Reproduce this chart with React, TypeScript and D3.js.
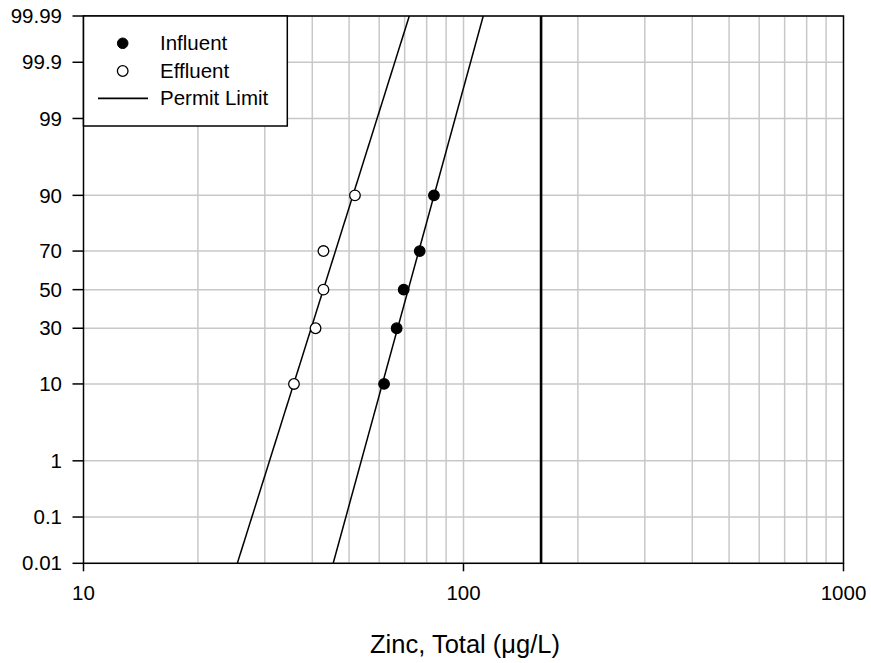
import React from "react";
import * as d3 from "d3";

const probTicks = [0.01, 0.1, 1, 10, 30, 50, 70, 90, 99, 99.9, 99.99];
const probTickLabels = ["0.01", "0.1", "1", "10", "30", "50", "70", "90", "99", "99.9", "99.99"];
const xTicks = [10, 100, 1000];
const xTickLabels = ["10", "100", "1000"];

const influentValues = [61.8, 66.7, 69.6, 76.7, 83.6];
const influentProbs = [10, 30, 50, 70, 90];
const effluentValues = [35.8, 40.8, 42.8, 42.8, 51.8];
const effluentProbs = [10, 30, 50, 70, 90];

// fitted lognormal lines: value at 0.01% and at 99.99%
const influentFit = [45.4, 112.7];
const effluentFit = [25.4, 72.0];
const fitProbs = [0.01, 99.99];

const permitLimit = 160;

function normInv(p: number): number {
  const a = [-3.969683028665376e1, 2.209460984245205e2, -2.759285104469687e2, 1.38357751867269e2, -3.066479806614716e1, 2.506628277459239];
  const b = [-5.447609879822406e1, 1.615858368580409e2, -1.556989798598866e2, 6.680131188771972e1, -1.328068155288572e1];
  const c = [-7.784894002430293e-3, -3.223964580411365e-1, -2.400758277161838, -2.549732539343734, 4.374664141464968, 2.938163982698783];
  const d = [7.784695709041462e-3, 3.224671290700398e-1, 2.445134137142996, 3.754408661907416];
  const pl = 0.02425;
  let q, r;
  if (p < pl) {
    q = Math.sqrt(-2 * Math.log(p));
    return (((((c[0] * q + c[1]) * q + c[2]) * q + c[3]) * q + c[4]) * q + c[5]) / ((((d[0] * q + d[1]) * q + d[2]) * q + d[3]) * q + 1);
  } else if (p <= 1 - pl) {
    q = p - 0.5;
    r = q * q;
    return ((((((a[0] * r + a[1]) * r + a[2]) * r + a[3]) * r + a[4]) * r + a[5]) * q) / (((((b[0] * r + b[1]) * r + b[2]) * r + b[3]) * r + b[4]) * r + 1);
  } else {
    q = Math.sqrt(-2 * Math.log(1 - p));
    return -(((((c[0] * q + c[1]) * q + c[2]) * q + c[3]) * q + c[4]) * q + c[5]) / ((((d[0] * q + d[1]) * q + d[2]) * q + d[3]) * q + 1);
  }
}

const L = 83.5, R = 843.5, T = 16, B = 563.3;
const FONT = "'Liberation Sans', Arial, Helvetica, sans-serif";

export default function App() {
  const x = d3.scaleLog().domain([10, 1000]).range([L, R]);
  const zy = d3.scaleLinear().domain([normInv(0.0001), normInv(0.9999)]).range([B, T]);
  const y = (pct: number) => zy(normInv(pct / 100));

  const minor: number[] = [];
  for (const dec of [10, 100]) for (let k = 2; k <= 9; k++) minor.push(dec * k);
  minor.push(100);

  const fitLine = (vals: number[]) => {
    const pts: [number, number][] = vals.map((v, i) => [x(v), y(fitProbs[i])]);
    return d3.line()(pts) || "";
  };

  return (
    <svg width={871} height={663} style={{ display: "block", position: "absolute", left: 0, top: 0 }} fontFamily={FONT}>
      <defs>
        <clipPath id="plot">
          <rect x={L} y={T} width={R - L} height={B - T} />
        </clipPath>
      </defs>
      <rect x={0} y={0} width={871} height={663} fill="white" />
      {minor.map((v) => (
        <line key={"gx" + v} x1={x(v)} x2={x(v)} y1={T} y2={B} stroke="#c8c8c8" strokeWidth={1.5} />
      ))}
      {probTicks.map((p) => (
        <line key={"gy" + p} x1={L} x2={R} y1={y(p)} y2={y(p)} stroke="#c8c8c8" strokeWidth={1.5} />
      ))}
      <g clipPath="url(#plot)">
        <path d={fitLine(influentFit)} stroke="black" strokeWidth={1.5} fill="none" />
        <path d={fitLine(effluentFit)} stroke="black" strokeWidth={1.5} fill="none" />
        <line x1={x(permitLimit)} x2={x(permitLimit)} y1={T} y2={B} stroke="black" strokeWidth={2.6} />
      </g>
      {influentValues.map((v, i) => (
        <circle key={"i" + i} cx={x(v)} cy={y(influentProbs[i])} r={5.3} fill="black" stroke="black" strokeWidth={1.2} />
      ))}
      {effluentValues.map((v, i) => (
        <circle key={"e" + i} cx={x(v)} cy={y(effluentProbs[i])} r={5.3} fill="white" stroke="black" strokeWidth={1.3} />
      ))}
      <rect x={L} y={T} width={R - L} height={B - T} fill="none" stroke="black" strokeWidth={1.5} />
      {probTicks.map((p, i) => (
        <g key={"ty" + p}>
          <line x1={L - 11} x2={L} y1={y(p)} y2={y(p)} stroke="black" strokeWidth={1.5} />
          <text x={62} y={y(p)} dy="0.35em" textAnchor="end" fontSize={20.5}>{probTickLabels[i]}</text>
        </g>
      ))}
      {xTicks.map((v, i) => (
        <g key={"tx" + v}>
          <line x1={x(v)} x2={x(v)} y1={B} y2={B + 8} stroke="black" strokeWidth={1.5} />
          <text x={x(v)} y={599.5} textAnchor="middle" fontSize={20.5}>{xTickLabels[i]}</text>
        </g>
      ))}
      <text x={465} y={653} textAnchor="middle" fontSize={25.5}>Zinc, Total (μg/L)</text>
      <rect x={L} y={T} width={287.3 - L} height={126 - T} fill="white" stroke="black" strokeWidth={1.5} />
      <circle cx={122.7} cy={43.3} r={5.3} fill="black" stroke="black" />
      <text x={160} y={43.3} dy="0.35em" fontSize={20.5}>Influent</text>
      <circle cx={122.7} cy={71} r={5.3} fill="white" stroke="black" strokeWidth={1.3} />
      <text x={160} y={71} dy="0.35em" fontSize={20.5}>Effluent</text>
      <line x1={98} x2={148} y1={98.3} y2={98.3} stroke="black" strokeWidth={1.8} />
      <text x={160} y={98.3} dy="0.35em" fontSize={20.5}>Permit Limit</text>
    </svg>
  );
}
